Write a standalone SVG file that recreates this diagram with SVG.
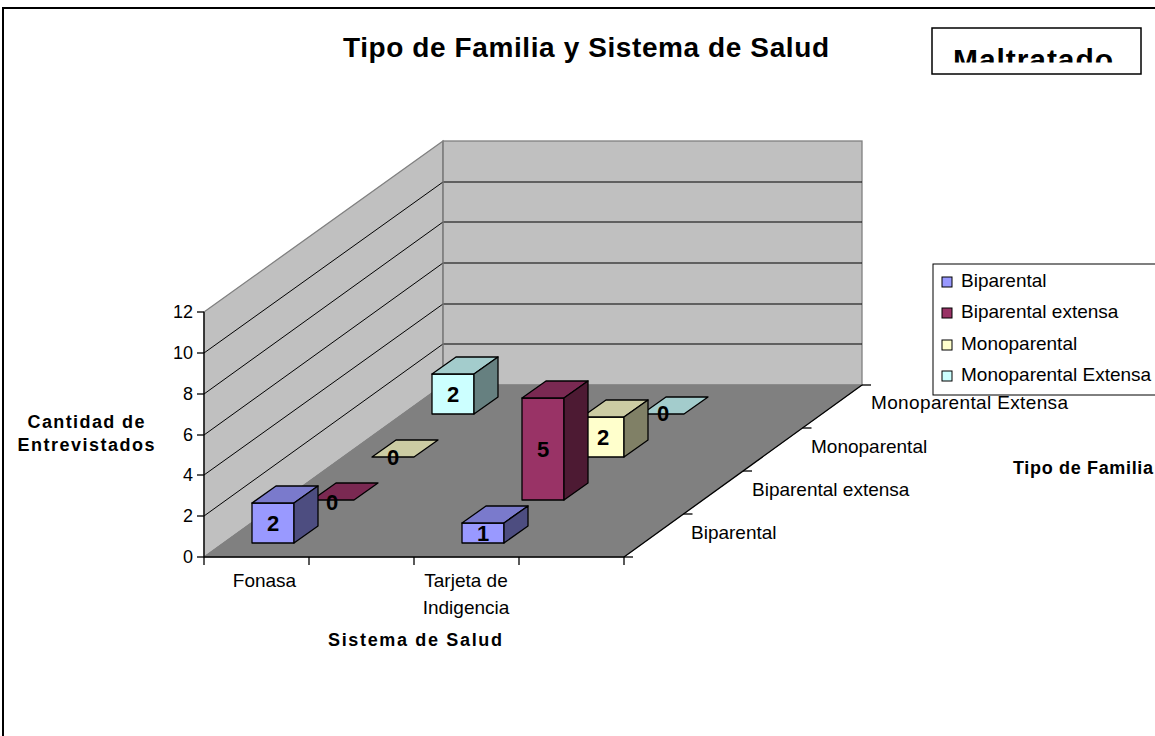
<svg xmlns="http://www.w3.org/2000/svg" width="1155" height="736" viewBox="0 0 1155 736">
<style>
text{font-family:"Liberation Sans",Arial,sans-serif;fill:#000}
.t{font-size:19px}
.b{font-weight:bold}
.tick{font-size:18px;text-anchor:end}
.lbl{font-size:22px;font-weight:bold;text-anchor:middle}
.e{stroke:#000;stroke-width:1.3;stroke-linejoin:round}
.g{stroke:#808080;stroke-width:1.3}
.grid{stroke:#000;stroke-width:1}
.bf1{fill:#9999FF}.bt1{fill:#7A7ACC}.bs1{fill:#4D4D80}
.bf2{fill:#993366}.bt2{fill:#7A2952}.bs2{fill:#4D1A33}
.bf3{fill:#FFFFCC}.bt3{fill:#CCCCA3}.bs3{fill:#808066}
.bf4{fill:#CCFFFF}.bt4{fill:#A3CCCC}.bs4{fill:#668080}
</style>
<defs>
<clipPath id="mclip"><rect x="933" y="29" width="207" height="33.5"/></clipPath>
</defs>
<rect x="0" y="0" width="1155" height="736" fill="#fff"/>
<rect x="3" y="8" width="1200" height="800" fill="none" stroke="#000" stroke-width="2"/>
<g id="title"><text class="b" x="586" y="57" font-size="28" text-anchor="middle" textLength="486">Tipo de Familia y Sistema de Salud</text></g>
<g id="maltratado">
<rect x="932" y="28" width="209" height="46" fill="#fff" stroke="#000" stroke-width="1.5"/>
<text class="b" x="953" y="70" font-size="30" clip-path="url(#mclip)" textLength="160">Maltratado</text>
</g>
<g id="walls">
<polygon points="204,312 443,141 443,385 204,557" fill="#C0C0C0" class="g"/>
<rect x="443" y="141" width="419" height="244" fill="#C0C0C0" class="g"/>
<polygon points="204,557 624,557 862,385 443,385" fill="#808080" stroke="#808080" stroke-width="1"/>
<g class="grid">
<line x1="443" y1="344" x2="862" y2="344"/>
<line x1="443" y1="304" x2="862" y2="304"/>
<line x1="443" y1="263" x2="862" y2="263"/>
<line x1="443" y1="222" x2="862" y2="222"/>
<line x1="443" y1="182" x2="862" y2="182"/>
<line x1="204" y1="516" x2="443" y2="344"/>
<line x1="204" y1="475" x2="443" y2="304"/>
<line x1="204" y1="435" x2="443" y2="263"/>
<line x1="204" y1="394" x2="443" y2="222"/>
<line x1="204" y1="353" x2="443" y2="182"/>
</g>
<line x1="443" y1="141" x2="443" y2="385" class="g"/>
</g>
<g id="axes" stroke="#000" stroke-width="1.3">
<line x1="204" y1="312" x2="204" y2="557"/>
<line x1="197" y1="312" x2="204" y2="312"/>
<line x1="197" y1="353" x2="204" y2="353"/>
<line x1="197" y1="394" x2="204" y2="394"/>
<line x1="197" y1="435" x2="204" y2="435"/>
<line x1="197" y1="475" x2="204" y2="475"/>
<line x1="197" y1="516" x2="204" y2="516"/>
<line x1="197" y1="557" x2="204" y2="557"/>
<line x1="204" y1="557" x2="624" y2="557"/>
<line x1="204" y1="557" x2="204" y2="565"/>
<line x1="309" y1="557" x2="309" y2="565"/>
<line x1="414" y1="557" x2="414" y2="565"/>
<line x1="519" y1="557" x2="519" y2="565"/>
<line x1="624" y1="557" x2="624" y2="565"/>
<line x1="624" y1="557" x2="862" y2="385"/>
<line x1="624" y1="557" x2="633" y2="557"/>
<line x1="683.5" y1="514" x2="692.5" y2="514"/>
<line x1="743" y1="471" x2="752" y2="471"/>
<line x1="802.5" y1="428" x2="811.5" y2="428"/>
<line x1="862" y1="385" x2="871" y2="385"/>
</g>
<g id="axis-labels">
<text class="tick" x="193" y="318">12</text>
<text class="tick" x="193" y="359">10</text>
<text class="tick" x="193" y="400">8</text>
<text class="tick" x="193" y="441">6</text>
<text class="tick" x="193" y="481">4</text>
<text class="tick" x="193" y="522">2</text>
<text class="tick" x="193" y="563">0</text>
<text class="t" x="264.5" y="587" text-anchor="middle">Fonasa</text>
<text class="t" x="466" y="587" text-anchor="middle">Tarjeta de</text>
<text class="t" x="466" y="614" text-anchor="middle">Indigencia</text>
<text class="t" x="691" y="539">Biparental</text>
<text class="t" x="752" y="496">Biparental extensa</text>
<text class="t" x="811" y="453">Monoparental</text>
<text class="t" x="871" y="409" textLength="197">Monoparental Extensa</text>
<text class="b" x="86" y="428" font-size="18" text-anchor="middle" textLength="117">Cantidad de</text>
<text class="b" x="86" y="451" font-size="18" text-anchor="middle" textLength="137">Entrevistados</text>
<text class="b" x="415" y="646" font-size="18" text-anchor="middle" textLength="174">Sistema de Salud</text>
<text class="b" x="1013" y="474" font-size="18" textLength="140">Tipo de Familia</text>
</g>
<g id="bar-monoext-fonasa" class="e">
<rect x="432" y="374" width="42" height="40" class="bf4"/>
<polygon points="432,374 474,374 498,357 456,357" class="bt4"/>
<polygon points="474,374 498,357 498,397 474,414" class="bs4"/>
</g>
<g id="bar-monoext-tarjeta" class="e">
<polygon points="642,414 684,414 708,397 666,397" class="bt4"/>
</g>
<g id="bar-mono-fonasa" class="e">
<polygon points="372,457 414,457 438,440 396,440" class="bt3"/>
</g>
<g id="bar-mono-tarjeta" class="e">
<rect x="582" y="417" width="42" height="40" class="bf3"/>
<polygon points="582,417 624,417 648,400 606,400" class="bt3"/>
<polygon points="624,417 648,400 648,440 624,457" class="bs3"/>
</g>
<g id="bar-bipext-fonasa" class="e">
<polygon points="312,500 354,500 378,483 336,483" class="bt2"/>
</g>
<g id="bar-bipext-tarjeta" class="e">
<rect x="522" y="398" width="42" height="102" class="bf2"/>
<polygon points="522,398 564,398 588,381 546,381" class="bt2"/>
<polygon points="564,398 588,381 588,483 564,500" class="bs2"/>
</g>
<g id="bar-bip-fonasa" class="e">
<rect x="252" y="503" width="42" height="40" class="bf1"/>
<polygon points="252,503 294,503 318,486 276,486" class="bt1"/>
<polygon points="294,503 318,486 318,526 294,543" class="bs1"/>
</g>
<g id="bar-bip-tarjeta" class="e">
<rect x="462" y="523" width="42" height="20" class="bf1"/>
<polygon points="462,523 504,523 528,506 486,506" class="bt1"/>
<polygon points="504,523 528,506 528,526 504,543" class="bs1"/>
</g>
<g id="data-labels">
<text class="lbl" x="453" y="402">2</text>
<text class="lbl" x="663" y="421">0</text>
<text class="lbl" x="393" y="465">0</text>
<text class="lbl" x="603" y="445">2</text>
<text class="lbl" x="332" y="510">0</text>
<text class="lbl" x="543" y="457">5</text>
<text class="lbl" x="273" y="531">2</text>
<text class="lbl" x="483" y="541">1</text>
</g>
<g id="legend">
<rect x="933" y="264" width="240" height="131" fill="#fff" stroke="#000" stroke-width="1"/>
<rect x="942" y="277" width="10" height="10" class="bf1" stroke="#000"/>
<rect x="942" y="308" width="10" height="10" class="bf2" stroke="#000"/>
<rect x="942" y="340" width="10" height="10" class="bf3" stroke="#000"/>
<rect x="942" y="371" width="10" height="10" class="bf4" stroke="#000"/>
<text class="t" x="961" y="287">Biparental</text>
<text class="t" x="961" y="318">Biparental extensa</text>
<text class="t" x="961" y="350">Monoparental</text>
<text class="t" x="961" y="381">Monoparental Extensa</text>
</g>
</svg>
